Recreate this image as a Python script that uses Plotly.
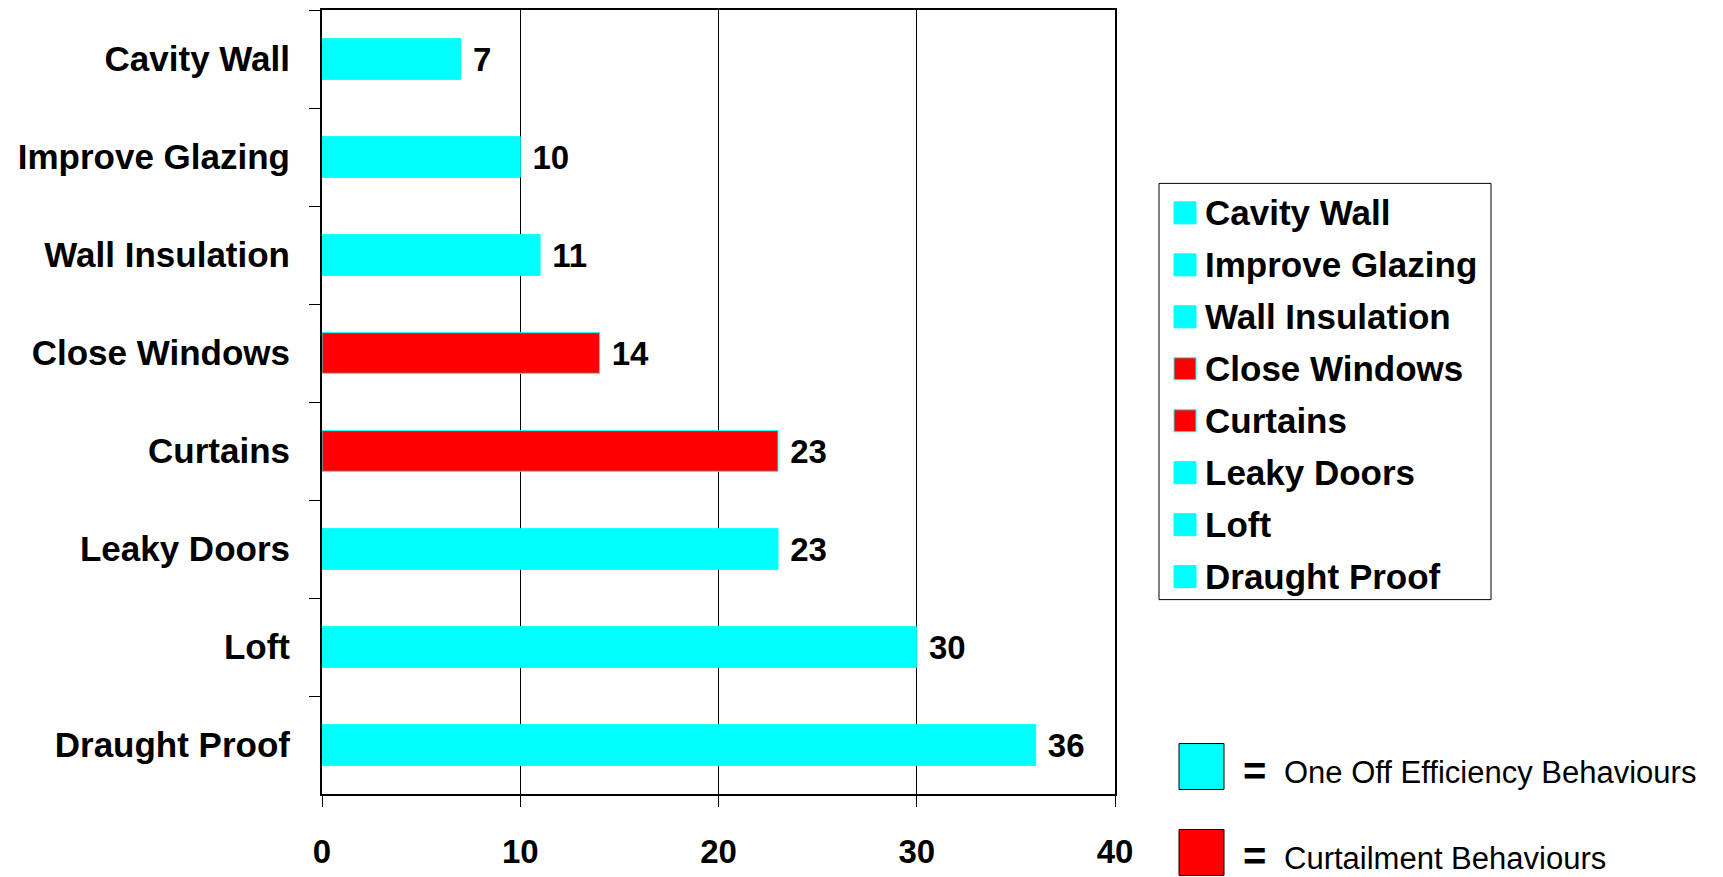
import plotly.graph_objects as go

# Behaviours and their counts, listed top to bottom
categories = ["Cavity Wall", "Improve Glazing", "Wall Insulation", "Close Windows",
              "Curtains", "Leaky Doors", "Loft", "Draught Proof"]
values = [7, 10, 11, 14, 23, 23, 30, 36]
behaviour_type = ["one_off", "one_off", "one_off", "curtailment",
                  "curtailment", "one_off", "one_off", "one_off"]
x_ticks = [0, 10, 20, 30, 40]

type_colors = {"one_off": "#00FFFF", "curtailment": "#FF0000"}
type_names = {"one_off": "One Off Efficiency Behaviours",
              "curtailment": "Curtailment Behaviours"}

W, H = 1723, 877
L, R, T, B = 322, 1115, 10, 794.5
FONT = "Liberation Sans, Arial, sans-serif"


def px(x):
    return (x - L) / (R - L)


def py(y):
    return 1 - (y - T) / (B - T)


colors = [type_colors[t] for t in behaviour_type]

fig = go.Figure(go.Bar(
    x=values, y=categories, orientation="h",
    marker=dict(color=colors, line=dict(color="#00FFFF", width=1)),
    text=[str(v) for v in values], texttemplate=" %{text}", textposition="outside",
    textfont=dict(family=FONT, size=33, color="black", weight="bold"),
    cliponaxis=False, constraintext="none", hoverinfo="skip",
))

shapes = []
annotations = []

# Legend box listing each behaviour with its colour
shapes.append(dict(type="rect", xref="paper", yref="paper",
                   x0=px(1159), x1=px(1491), y0=py(183.5), y1=py(600),
                   line=dict(color="black", width=1), fillcolor="white"))
for i, (cat, t) in enumerate(zip(categories, behaviour_type)):
    cy = 213 + 52 * i
    shapes.append(dict(type="rect", xref="paper", yref="paper",
                       x0=px(1174), x1=px(1196), y0=py(cy - 11), y1=py(cy + 11),
                       line=dict(color="#00FFFF", width=1),
                       fillcolor=type_colors[t]))
    annotations.append(dict(xref="paper", yref="paper", x=px(1203), y=py(cy),
                            xanchor="left", yanchor="middle", showarrow=False,
                            text=f"<b>{cat}</b>",
                            font=dict(family=FONT, size=35, color="black")))

# Colour key for the two behaviour types
for t, cy in zip(["one_off", "curtailment"], [767, 853]):
    shapes.append(dict(type="rect", xref="paper", yref="paper",
                       x0=px(1179), x1=px(1224), y0=py(cy - 23), y1=py(cy + 23),
                       line=dict(color="black", width=1),
                       fillcolor=type_colors[t]))
    annotations.append(dict(xref="paper", yref="paper", x=px(1241), y=py(cy + 4),
                            xanchor="left", yanchor="middle", showarrow=False,
                            text="<b>=</b>",
                            font=dict(family=FONT, size=40, color="black")))
    annotations.append(dict(xref="paper", yref="paper", x=px(1282), y=py(cy + 6),
                            xanchor="left", yanchor="middle", showarrow=False,
                            text=type_names[t],
                            font=dict(family=FONT, size=31, color="black")))

fig.update_layout(
    width=W, height=H,
    margin=dict(l=L, r=W - R, t=T, b=H - B),
    paper_bgcolor="white", plot_bgcolor="white",
    bargap=0.585, showlegend=False,
    shapes=shapes, annotations=annotations,
    xaxis=dict(range=[0, 40], tickvals=x_ticks, ticks="outside", ticklen=11,
               tickwidth=1, tickcolor="black", automargin=False,
               showgrid=True, gridcolor="black", gridwidth=1,
               showline=True, linecolor="black", linewidth=2, mirror=True,
               zeroline=False, ticklabelstandoff=16,
               tickfont=dict(family=FONT, size=33, color="black", weight="bold")),
    yaxis=dict(autorange="reversed", tickson="boundaries", ticks="outside",
               ticklen=11, tickwidth=1, tickcolor="black", automargin=False,
               showline=True, linecolor="black", linewidth=2, mirror=True,
               showgrid=False, ticklabelstandoff=23,
               tickfont=dict(family=FONT, size=35, color="black", weight="bold")),
)

fig.write_html("out.html")
